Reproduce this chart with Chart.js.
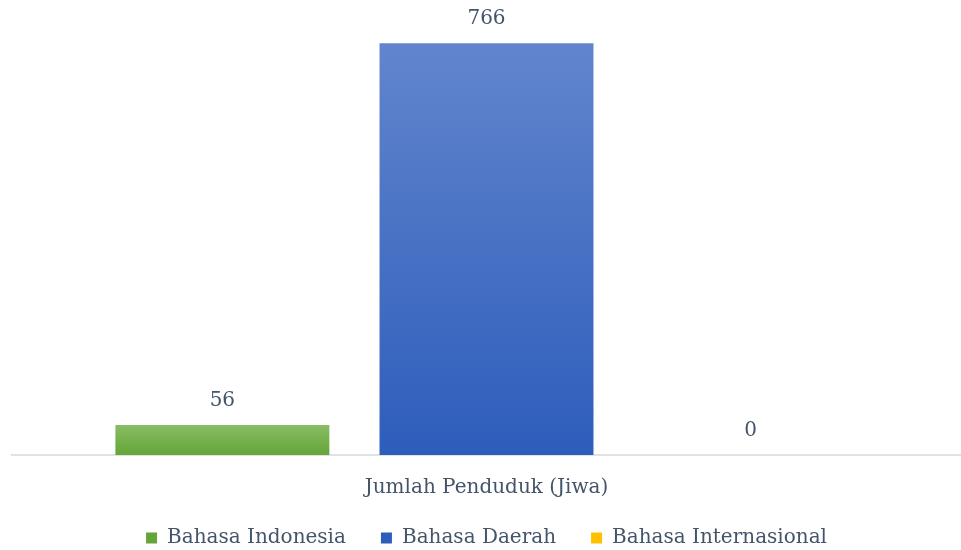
<!DOCTYPE html>
<html>
<head>
<meta charset="utf-8">
<script src="https://cdn.jsdelivr.net/npm/chart.js@4/dist/chart.umd.min.js"></script>
<style>
  html, body { margin: 0; padding: 0; background: #fff; overflow: hidden; }
  #wrap { width: 961px; height: 550px; position: relative; }
</style>
</head>
<body>
<div id="wrap"><canvas id="chart"></canvas></div>
<script>
const categories = ["Jumlah Penduduk (Jiwa)"];
const seriesNames = ["Bahasa Indonesia", "Bahasa Daerah", "Bahasa Internasional"];
const bahasaIndonesia = [56];
const bahasaDaerah = [766];
const bahasaInternasional = [0];

const textColor = "#44546a";
const fontFamily = "'DejaVu Serif', 'Liberation Serif', serif";

// vertical gradient per bar, solid colour for the legend
function barFill(top, bottom) {
  return (ctx) => {
    const chart = ctx.chart;
    if (!chart.chartArea || ctx.raw === undefined) return bottom;
    const y = chart.scales.y;
    const y0 = y.getPixelForValue(ctx.raw);
    const y1 = y.getPixelForValue(0);
    if (y1 - y0 < 1) return bottom;
    const g = chart.ctx.createLinearGradient(0, y0, 0, y1);
    g.addColorStop(0, top);
    g.addColorStop(1, bottom);
    return g;
  };
}

// value labels above the bars
const valueLabels = {
  id: "valueLabels",
  afterLayout(chart) {
    // x axis box is squeezed so the legend sits low; let its label draw past it
    const x = chart.scales.x;
    x.bottom = x.top + 63;
  },
  afterDatasetsDraw(chart) {
    const ctx = chart.ctx;
    ctx.save();
    ctx.fillStyle = textColor;
    ctx.font = "20px " + fontFamily;
    ctx.textAlign = "center";
    ctx.textBaseline = "middle";
    chart.data.datasets.forEach((ds, i) => {
      chart.getDatasetMeta(i).data.forEach((bar, j) => {
        ctx.fillText(String(ds.data[j]), bar.x, bar.y - 24);
      });
    });
    ctx.restore();
  }
};

new Chart(document.getElementById("chart"), {
  type: "bar",
  data: {
    labels: categories,
    datasets: [
      { label: seriesNames[0], data: bahasaIndonesia, backgroundColor: barFill("#89bd63", "#64a539") },
      { label: seriesNames[1], data: bahasaDaerah, backgroundColor: barFill("#6285cd", "#2d5dbb") },
      { label: seriesNames[2], data: bahasaInternasional, backgroundColor: barFill("#ffc000", "#ffc000") }
    ]
  },
  options: {
    responsive: true,
    maintainAspectRatio: false,
    animation: false,
    datasets: { bar: { categoryPercentage: 0.835, barPercentage: 0.81 } },
    layout: { padding: { top: 25, left: 12, right: 0, bottom: -8 } },
    scales: {
      x: {
        grid: { display: false, drawTicks: false },
        border: { display: true, color: "#dfe2e7", width: 2 },
        ticks: { color: textColor, font: { family: fontFamily, size: 20 }, padding: 21 },
        afterFit(scale) { scale.height = 38; }
      },
      y: { display: false, min: 0, max: 800 }
    },
    plugins: {
      legend: {
        position: "bottom",
        labels: {
          color: textColor,
          font: { family: fontFamily, size: 20 },
          boxWidth: 11,
          boxHeight: 11,
          padding: 35
        }
      },
      tooltip: { enabled: false }
    }
  },
  plugins: [valueLabels]
});
</script>
</body>
</html>
